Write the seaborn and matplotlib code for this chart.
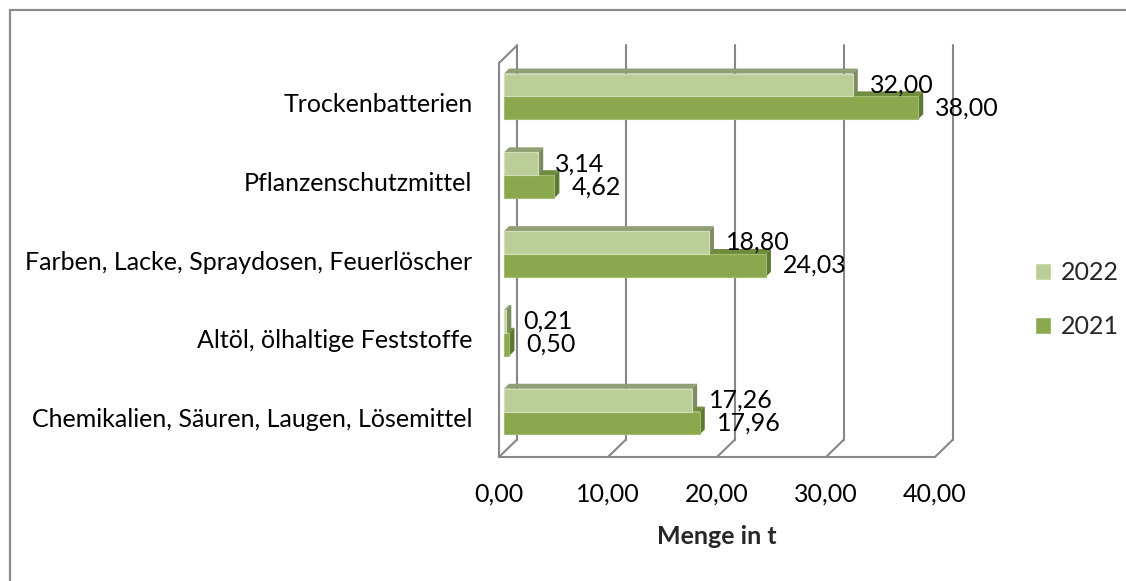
import numpy as np
import pandas as pd
import matplotlib
matplotlib.use("Agg")
import matplotlib.pyplot as plt
import seaborn as sns
from matplotlib.patches import Polygon, Rectangle
from matplotlib.lines import Line2D

# ---------------- data ----------------
categories = [
    "Trockenbatterien",
    "Pflanzenschutzmittel",
    "Farben, Lacke, Spraydosen, Feuerlöscher",
    "Altöl, ölhaltige Feststoffe",
    "Chemikalien, Säuren, Laugen, Lösemittel",
]
values_2022 = [32.00, 3.14, 18.80, 0.21, 17.26]
values_2021 = [38.00, 4.62, 24.03, 0.50, 17.96]
years = ["2022", "2021"]
x_ticks = [0, 10, 20, 30, 40]
x_label = "Menge in t"

def de(v):
    return f"{v:.2f}".replace(".", ",")

# ---------------- style ----------------
sns.set_theme(style="white")
plt.rcParams["font.family"] = ["Lato", "DejaVu Sans"]
FS = 18.0
GRAY = "#878787"
LW = 1.5

front = {"2022": "#BCCE97", "2021": "#8BA84F"}
edge = {"2022": "#D3E0BA", "2021": "#A3BD70"}
topc = {"2022": "#909F74", "2021": "#6F8B3C"}
sidec = {"2022": "#7C8B61", "2021": "#5E7732"}

W, H = 1126, 581
fig = plt.figure(figsize=(W / 100, H / 100), dpi=100)
ax = fig.add_axes([499 / W, (H - 457) / H, (935 - 499) / W, (457 - 63) / H])

df = pd.DataFrame({
    "Kategorie": categories * 2,
    "Menge": values_2022 + values_2021,
    "Jahr": [years[0]] * len(categories) + [years[1]] * len(categories),
})
sns.barplot(data=df, y="Kategorie", x="Menge", hue="Jahr", hue_order=years,
            palette=front, orient="h", width=0.58, saturation=1,
            errorbar=None, ax=ax, legend=True)
ax.set_xlim(0, 40)
ax.set_ylim(len(categories) - 0.5, -0.5)

# pixel -> data conversion
p0 = ax.transData.transform((0, 0))
p1 = ax.transData.transform((1, 1))
ppx = p1[0] - p0[0]
ppy = p1[1] - p0[1]
def off(dx_px, dy_px):
    return dx_px / ppx, dy_px / ppy

# ---------------- 3D walls / grid ----------------
gdx, gdy = off(18, 17.5)
ybot, ytop = len(categories) - 0.5, -0.5
for xv in x_ticks:
    ax.add_line(Line2D([xv + gdx, xv + gdx], [ybot + gdy, ytop + gdy], color=GRAY,
                       lw=LW, clip_on=False, zorder=1))
    ax.add_line(Line2D([xv, xv + gdx], [ybot, ybot + gdy], color=GRAY,
                       lw=LW, clip_on=False, zorder=1))
ax.add_line(Line2D([0, gdx], [ytop, ytop + gdy], color=GRAY, lw=LW,
                   clip_on=False, zorder=1))

# ---------------- 3D bars ----------------
bx, by = off(5, 6)
ddx, ddy = off(5, 5)
for year, cont in zip(years, ax.containers):
    z = 4 if year == "2022" else 3
    for p, v in zip(cont.patches, cont.datavalues):
        x0, y0, w, h = p.get_x(), p.get_y(), p.get_width(), p.get_height()
        X0, YT = x0 + bx, y0 + by
        X1, YB = X0 + w, YT + h
        p.set_x(X0)
        p.set_y(YT)
        p.set_edgecolor(edge[year])
        p.set_linewidth(0.8)
        p.set_zorder(z + 0.2)
        p.set_clip_on(False)
        top = Polygon([(X0, YT), (X1, YT), (X1 + ddx, YT + ddy), (X0 + ddx, YT + ddy)],
                      closed=True, facecolor=topc[year], edgecolor="none",
                      zorder=z, clip_on=False)
        side = Polygon([(X1, YT), (X1, YB), (X1 + ddx, YB + ddy), (X1 + ddx, YT + ddy)],
                       closed=True, facecolor=sidec[year], edgecolor="none",
                       zorder=z + 0.1, clip_on=False)
        ax.add_patch(top)
        ax.add_patch(side)
        ax.annotate(de(v), xy=(v, (YT + YB) / 2 - by), xytext=(22, 6),
                    textcoords="offset pixels", ha="left", va="center",
                    fontsize=FS, color="black", zorder=6, annotation_clip=False)

# ---------------- axes ----------------
for s in ["top", "right"]:
    ax.spines[s].set_visible(False)
for s in ["left", "bottom"]:
    ax.spines[s].set_color(GRAY)
    ax.spines[s].set_linewidth(LW)
    ax.spines[s].set_zorder(1)

ax.set_xticks(x_ticks, labels=[de(t) for t in x_ticks])
ax.set_yticks(range(len(categories)), labels=categories)
ax.set_yticks(np.arange(-0.5, len(categories)), minor=True)
ax.tick_params(axis="x", which="major", direction="out", length=4.3, width=LW,
               color=GRAY, labelsize=FS, pad=14, labelcolor="black")
ax.tick_params(axis="y", which="major", length=0, labelsize=FS, pad=19,
               labelcolor="black")
ax.tick_params(axis="y", which="minor", direction="out", length=4.3, width=LW,
               color=GRAY)
ax.set_ylabel("")
ax.set_xlabel(x_label, fontsize=FS, fontweight="bold", labelpad=14)
ax.grid(False)
ax.patch.set_alpha(0)

handles, labs = ax.get_legend_handles_labels()
ax.legend(handles, labs, loc="upper left", bbox_to_anchor=(1035 / W, 1 - 261 / H),
          bbox_transform=fig.transFigure, frameon=False, fontsize=FS,
          labelspacing=1.25, handlelength=0.65, handleheight=0.65,
          handletextpad=0.4, borderpad=0, borderaxespad=0)

# outer frame
fig.patches.append(Rectangle((10 / W, -0.2), 1.5, (H - 10) / H + 0.2,
                             transform=fig.transFigure, fill=False,
                             edgecolor="#8C8C8C", lw=1.6))

fig.savefig("out.png", dpi=100)
